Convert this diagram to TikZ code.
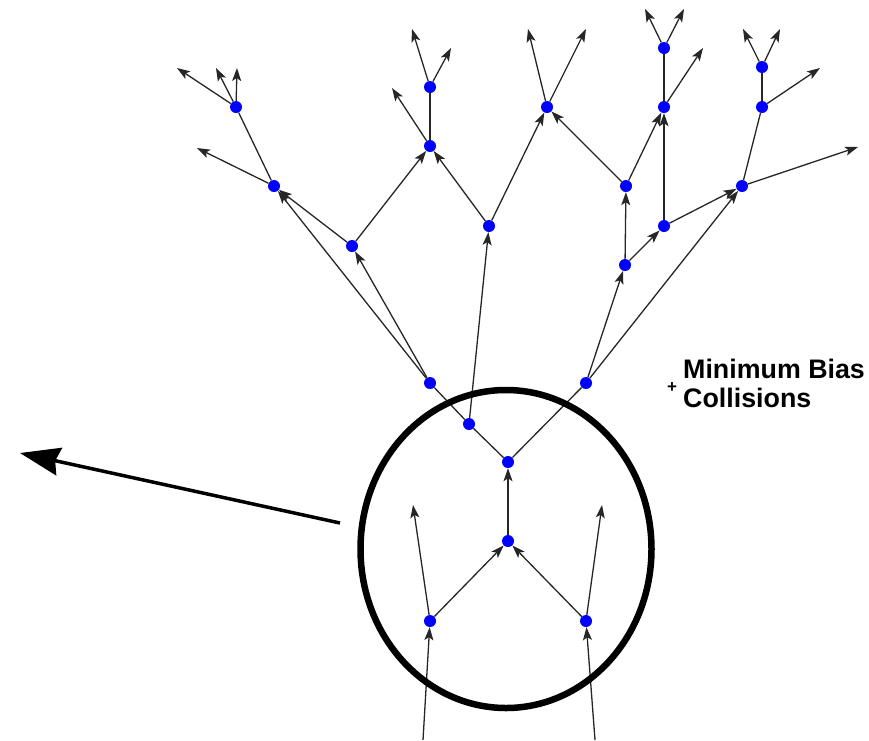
\documentclass[tikz,border=0pt]{standalone}
\usepackage{fontspec}
\newfontfamily\labelfont{Liberation Sans}
\usetikzlibrary{arrows.meta,shapes.geometric}
\tikzset{
  vtx/.style={circle,fill=blue,draw=none,inner sep=0pt,minimum size=12pt},
  trk/.style={draw=black!85,line width=1.3pt},
  arr/.style={trk,-{Stealth[length=13pt,width=9pt,inset=3pt]}},
  ring/.style={draw=black,line width=6.5pt},
  pointer/.style={draw=black,line width=3.5pt,-{Stealth[length=40pt,width=28pt,inset=4pt]}},
  lbl/.style={font=\labelfont\bfseries\fontsize{26.8}{29}\selectfont,anchor=base west,inner sep=0pt},
  plus/.style={font=\labelfont\bfseries\fontsize{17}{17}\selectfont,inner sep=0pt}
}
\begin{document}
\begin{tikzpicture}[x=1pt,y=-1pt]
\useasboundingbox (0,0) rectangle (869,740);

% vertices
\node[vtx] (L1) at (430,621) {};
\node[vtx] (R1) at (586,621) {};
\node[vtx] (C1) at (508,541) {};
\node[vtx] (C2) at (508,462) {};
\node[vtx] (M1) at (469,424) {};
\node[vtx] (A) at (430,383) {};
\node[vtx] (B) at (586,383) {};
\node[vtx] (D) at (352,246) {};
\node[vtx] (E) at (274,186) {};
\node[vtx] (F) at (236,107) {};
\node[vtx] (G) at (489,226) {};
\node[vtx] (H) at (430,146) {};
\node[vtx] (I) at (430,87) {};
\node[vtx] (J) at (547,107) {};
\node[vtx] (K) at (625,265) {};
\node[vtx] (P) at (626,186) {};
\node[vtx] (Q) at (664,226) {};
\node[vtx] (S) at (664,107) {};
\node[vtx] (T) at (664,48) {};
\node[vtx] (U) at (742,186) {};
\node[vtx] (V) at (762,107) {};
\node[vtx] (W) at (762,67) {};

% free track ends
\coordinate (inL) at (423,740);
\coordinate (inR) at (595,740);
\coordinate (outL) at (413,505);
\coordinate (outR) at (602,505);
\coordinate (e1) at (197,148);
\coordinate (f1) at (177,68);
\coordinate (f2) at (216,68);
\coordinate (f3) at (237,68);
\coordinate (h1) at (392,88);
\coordinate (i1) at (412,29);
\coordinate (i2) at (451,48);
\coordinate (j1) at (528,29);
\coordinate (j2) at (586,29);
\coordinate (s1) at (703,48);
\coordinate (t1) at (645,9);
\coordinate (t2) at (684,9);
\coordinate (u1) at (858,147);
\coordinate (v1) at (820,68);
\coordinate (w1) at (743,29);
\coordinate (w2) at (780,29);

% incoming beams and hard scatter
\draw[arr] (inL) -- (L1);
\draw[arr] (L1) -- (outL);
\draw[arr] (inR) -- (R1);
\draw[arr] (R1) -- (outR);
\draw[arr] (L1) -- (C1);
\draw[arr] (R1) -- (C1);
\draw[arr] (C1) -- (C2);

% shower
\draw[trk] (C2) -- (M1);
\draw[trk] (M1) -- (A);
\draw[trk] (C2) -- (B);
\draw[arr] (M1) -- (G);
\draw[arr] (A) -- (D);
\draw[arr] (A) -- (E);
\draw[arr] (B) -- (K);
\draw[arr] (B) -- (U);
\draw[arr] (D) -- (E);
\draw[arr] (D) -- (H);
\draw[arr] (E) -- (e1);
\draw[trk] (E) -- (F);
\draw[arr] (F) -- (f1);
\draw[arr] (F) -- (f2);
\draw[arr] (F) -- (f3);
\draw[arr] (G) -- (H);
\draw[arr] (G) -- (J);
\draw[trk] (H) -- (I);
\draw[arr] (H) -- (h1);
\draw[arr] (I) -- (i1);
\draw[arr] (I) -- (i2);
\draw[arr] (J) -- (j1);
\draw[arr] (J) -- (j2);
\draw[arr] (K) -- (P);
\draw[arr] (K) -- (Q);
\draw[arr] (P) -- (J);
\draw[arr] (P) -- (S);
\draw[arr] (Q) -- (S);
\draw[arr] (Q) -- (U);
\draw[trk] (S) -- (T);
\draw[arr] (S) -- (s1);
\draw[arr] (T) -- (t1);
\draw[arr] (T) -- (t2);
\draw[arr] (U) -- (u1);
\draw[trk] (U) -- (V);
\draw[arr] (V) -- (v1);
\draw[trk] (V) -- (W);
\draw[arr] (W) -- (w1);
\draw[arr] (W) -- (w2);

% highlighted region and pointer
\node[ring,ellipse,minimum width=291pt,minimum height=318pt,inner sep=0pt] (zone) at (506,549) {};
\coordinate (ptrStart) at (340,523);
\coordinate (ptrEnd) at (20,453);
\draw[pointer] (ptrStart) -- (ptrEnd);

% label
\node[plus] (pl) at (672,388) {+};
\node[lbl] (mb) at (683,378) {Minimum Bias};
\node[lbl] (co) at (683,407) {Collisions};
\end{tikzpicture}
\end{document}
